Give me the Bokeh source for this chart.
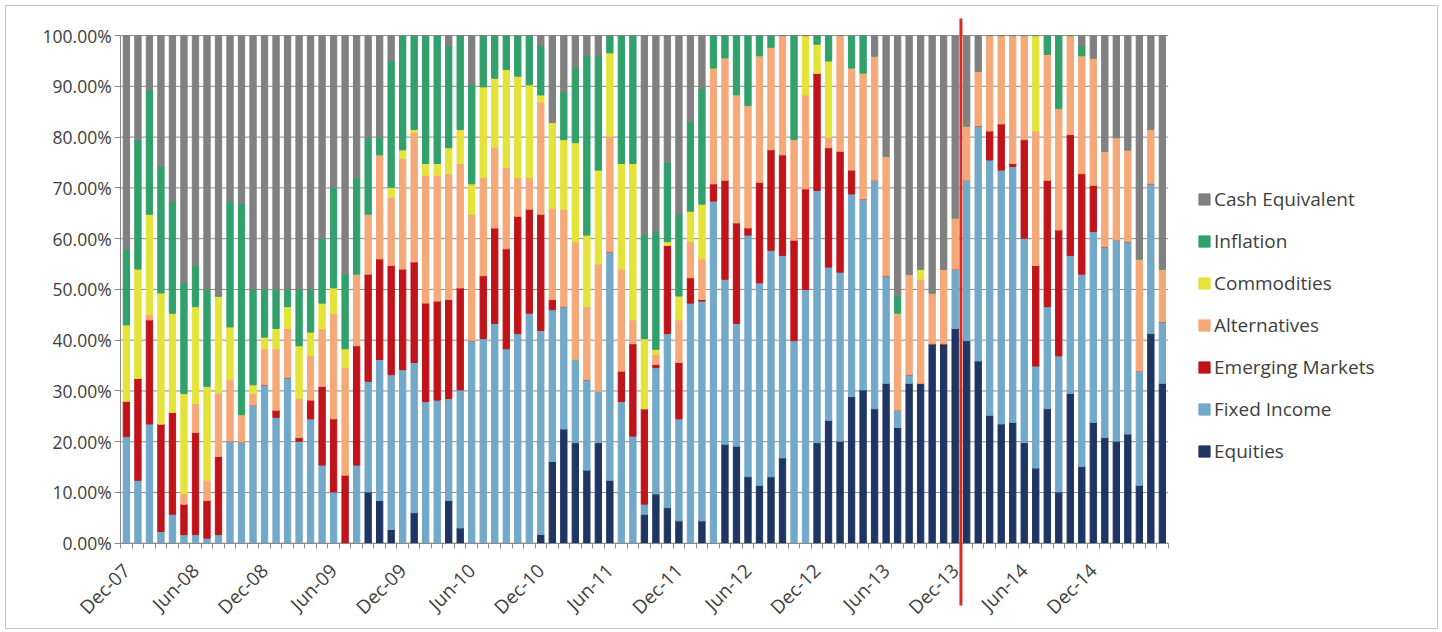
import math
import pandas as pd
from bokeh.plotting import figure
from bokeh.models import (Range1d, FixedTicker, NumeralTickFormatter, Legend, LegendItem,
                          ColumnDataSource)
from bokeh.embed import file_html
from bokeh.resources import INLINE

# ---- categories (monthly, Dec-07 .. Jun-15) ----
months = [d.strftime("%b-%y") for d in pd.date_range("2007-12-01", periods=91, freq="MS")]
tick_labels = ["Dec-07", "Jun-08", "Dec-08", "Jun-09", "Dec-09", "Jun-10", "Dec-10", "Jun-11",
               "Dec-11", "Jun-12", "Dec-12", "Jun-13", "Dec-13", "Jun-14", "Dec-14"]
y_ticks = [0, 10, 20, 30, 40, 50, 60, 70, 80, 90, 100]

# ---- series values (% of portfolio) ----
equities = [0, 0, 0, 0, 0, 0, 0, 0, 0, 0,
            0, 0, 0, 0, 0, 0, 0, 0, 0, 0,
            0, 10.1, 8.4, 2.7, 0, 6, 0, 0, 8.4, 3,
            0, 0, 0, 0, 0, 0, 1.7, 16.1, 22.5, 19.8,
            14.4, 19.8, 12.4, 0, 0, 5.7, 9.7, 7, 4.4, 0,
            4.4, 0, 19.5, 19.1, 13.1, 11.4, 13.1, 16.8, 0, 0,
            19.8, 24.2, 20.1, 28.9, 30.2, 26.5, 31.5, 22.8, 31.5, 31.5,
            39.3, 39.3, 42.3, 39.9, 35.9, 25.2, 23.5, 23.8, 19.8, 14.8,
            26.5, 10.1, 29.5, 15.1, 23.8, 20.8, 20.1, 21.5, 11.4, 41.3,
            31.5]
fixed_income = [21, 12.4, 23.5, 2.3, 5.7, 1.7, 1.7, 1, 1.7, 20.1,
                19.9, 27.2, 31.2, 24.8, 32.6, 20.1, 24.5, 15.4, 10.1, 0,
                15.4, 21.8, 27.8, 30.5, 34.2, 29.6, 27.9, 28.2, 20.1, 27.2,
                39.9, 40.3, 43.3, 38.3, 41.3, 45.3, 40.2, 29.9, 24.1, 16.4,
                17.8, 10.1, 45, 27.9, 21.1, 2, 24.9, 34.3, 20.1, 47.3,
                43.3, 67.4, 32.5, 24.2, 47.6, 39.9, 44.6, 39.9, 39.9, 50,
                49.7, 30.2, 33.3, 39.9, 37.6, 45, 21.2, 3.4, 1.7, 0,
                0, 0, 11.7, 31.6, 46.3, 50.3, 50, 50.4, 40.3, 20.1,
                20.1, 26.8, 27.2, 37.9, 37.6, 37.6, 39.6, 37.9, 22.5, 29.5,
                12.1]
emerging_markets = [7, 20.1, 20.5, 21.2, 20.1, 6, 20.1, 7.4, 15.4, 0,
                    0, 0, 0, 1.4, 0, 0.7, 3.7, 15.5, 14.4, 13.4,
                    23.5, 21.1, 19.8, 21.5, 19.8, 19.8, 19.4, 19.5, 19.5, 20.1,
                    0, 12.4, 18.8, 19.7, 23.1, 20.5, 22.9, 2, 0, 0,
                    0, 0, 0, 6, 18.2, 18.8, 0.6, 17.4, 11.1, 5,
                    0.3, 3.4, 19.5, 19.8, 1.4, 19.8, 19.8, 19.8, 19.8, 19.8,
                    23.1, 23.5, 23.8, 4.7, 0, 0, 0, 0, 0, 0,
                    0, 0, 0, 0, 0, 5.7, 9.1, 0.6, 19.4, 19.8,
                    24.9, 24.8, 23.8, 19.8, 9.1, 0, 0, 0, 0, 0,
                    0]
alternatives = [0, 0, 1, 0, 0, 2, 5.7, 4, 12.4, 12.1,
                5.4, 2.3, 7.1, 12.1, 9.7, 7.7, 8.7, 11.4, 20.8, 21.2,
                14.1, 11.8, 20.5, 13.4, 21.8, 25.5, 25.2, 24.8, 24.8, 24.5,
                24.9, 19.3, 15.9, 16, 7.6, 6.2, 22.1, 18, 19.2, 23.2,
                14.4, 25.1, 22.8, 20.1, 4.7, 0, 2, 0, 8.4, 7.1,
                8, 22.8, 24.1, 25.2, 24.1, 24.9, 20.2, 23.5, 19.8, 18.5,
                0, 2.1, 22.8, 20.1, 24.8, 24.5, 23.5, 19.1, 19.8, 20.5,
                10, 14.7, 10.1, 10.7, 10.8, 18.8, 17.4, 25.2, 20.5, 26.5,
                24.8, 23.9, 19.5, 23.2, 25.1, 18.8, 20.2, 18.1, 22.1, 10.7,
                10.4]
commodities = [15, 21.5, 19.8, 25.8, 19.5, 19.8, 19.1, 18.5, 19.2, 10.4,
               0, 1.7, 2.3, 4, 4.3, 10.4, 4.7, 5, 5, 3.7,
               0, 0, 0, 2, 1.7, 0.6, 2.3, 2.3, 5.1, 6.7,
               6, 17.9, 13.6, 19.3, 20, 18.3, 1.4, 16.9, 13.7, 19.5,
               14.1, 18.5, 16.4, 20.8, 30.8, 13.8, 1, 0.7, 4.7, 6,
               10.8, 0, 0, 0, 0, 0, 0, 0, 0, 11.7,
               5.7, 15, 0, 0, 0, 0, 0, 0, 0, 2,
               0, 0, 0, 0, 0, 0, 0, 0, 0, 18.8,
               0, 0, 0, 0, 0, 0, 0, 0, 0, 0,
               0]
inflation = [15, 25.5, 24.5, 24.9, 22.1, 21.8, 8.1, 19.1, 0, 24.8,
             41.7, 18.8, 9.4, 7.7, 3.4, 11.1, 8.4, 12.7, 19.7, 14.7,
             19, 15.1, 3.5, 24.9, 22.5, 18.5, 25.2, 25.2, 20.1, 18.5,
             19.5, 10.1, 8.4, 6.7, 8, 9.7, 9.7, 0, 9.4, 14.7,
             35.3, 22.5, 3.4, 25.2, 25.2, 20.4, 23.2, 15.6, 16.1, 17.6,
             22.8, 6.4, 4.4, 11.7, 13.8, 4, 2.3, 0, 20.5, 0,
             1.7, 5, 0, 6.4, 7.4, 0, 0, 3.4, 0, 0,
             0, 0, 0, 0, 0, 0, 0, 0, 0, 0,
             3.7, 14.4, 0, 2, 0, 0, 0, 0, 0, 0,
             0]
cash_equivalent = [42, 20.5, 10.7, 25.8, 32.6, 48.7, 45.3, 50, 51.3, 32.6,
                   33, 50, 50, 50, 50, 50, 50, 40, 30, 47,
                   28, 20.1, 20, 5, 0, 0, 0, 0, 2, 0,
                   9.7, 0, 0, 0, 0, 0, 2, 17.1, 11.1, 6.4,
                   4, 4, 0, 0, 0, 39.3, 38.6, 25, 35.2, 17,
                   10.4, 0, 0, 0, 0, 0, 0, 0, 0, 0,
                   0, 0, 0, 0, 0, 4, 23.8, 51.3, 47, 46,
                   50.7, 46, 35.9, 17.8, 7, 0, 0, 0, 0, 0,
                   0, 0, 0, 2, 4.4, 22.8, 20.1, 22.5, 44, 18.5,
                   46]

series_names = ["Equities", "Fixed Income", "Emerging Markets", "Alternatives",
                "Commodities", "Inflation", "Cash Equivalent"]
series_values = [equities, fixed_income, emerging_markets, alternatives,
                 commodities, inflation, cash_equivalent]
colors = ["#1f3563", "#72a8c8", "#c0141a", "#f5a878", "#e3e33a", "#31a06b", "#808080"]

n = len(months)
keys = ["s%d" % i for i in range(len(series_names))]
data = {"x": list(range(n)), "month": months}
for k, vals in zip(keys, series_values):
    data[k] = [v / 100.0 for v in vals]
src = ColumnDataSource(data)

FONT = "Open Sans"
TXT = "#404040"
GRID = "#8a8a8a"

# The frame fills the whole figure; axes are pinned inside it so that the divider
# line and the legend can sit outside the bar area without being clipped.
OX, OY = 5, 5                                  # figure offset on the page (margin)
W, H = 1433, 624
fl, fr, ft, fb = 1, W - 1, 1, H - 1            # frame edges in figure px
px_x0, px_x1 = 120 - OX, 1166 - OX             # plot-area left/right
px_y0, px_y1 = 541 - OY, 35 - OY               # 0% and 100%
ppx = (px_x1 - px_x0) / n
ppy = (px_y0 - px_y1)
x_lo = -0.5 - (px_x0 - fl) / ppx
x_hi = n - 0.5 + (fr - px_x1) / ppx
y_lo = -(fb - px_y0) / ppy
y_hi = 1 + (px_y1 - ft) / ppy

p = figure(width=W, height=H, output_backend="svg", toolbar_location=None,
           x_range=Range1d(x_lo, x_hi), y_range=Range1d(y_lo, y_hi),
           min_border=0, min_border_left=0, min_border_right=0,
           min_border_top=0, min_border_bottom=0)
p.styles = {"border": "1px solid #c4c4c4", "margin-left": "%dpx" % OX, "margin-top": "%dpx" % OY}
p.outline_line_color = None
p.background_fill_color = "white"
p.xgrid.visible = False
p.ygrid.visible = False

# horizontal gridlines across the bar area only
gy = [t / 100 for t in y_ticks]
p.segment(x0=[-0.5] * len(gy), x1=[n - 0.5] * len(gy), y0=gy, y1=gy,
          line_color=GRID, line_width=1, level="underlay")

rs = p.vbar_stack(keys, x="x", width=0.55, color=colors, source=src)

# y axis pinned at the left edge of the bar area
p.yaxis.fixed_location = -0.5
p.yaxis.bounds = (0, 1)
p.yaxis.ticker = FixedTicker(ticks=gy)
p.yaxis.formatter = NumeralTickFormatter(format="0.00%")
p.yaxis.axis_line_color = GRID
p.yaxis.major_tick_line_color = GRID
p.yaxis.major_tick_out = 6
p.yaxis.major_tick_in = 0
p.yaxis.minor_tick_line_color = None
p.yaxis.major_label_text_font = FONT
p.yaxis.major_label_text_font_size = "17.5px"
p.yaxis.major_label_text_color = TXT
p.yaxis.major_label_standoff = 3

# x axis pinned at 0%
tick_pos = [months.index(lbl) for lbl in tick_labels]
p.xaxis.fixed_location = 0
p.xaxis.bounds = (-0.5, n - 0.5)
p.xaxis.ticker = FixedTicker(ticks=tick_pos, minor_ticks=[i - 0.5 for i in range(n + 1)])
p.xaxis.major_label_overrides = {pos: lbl for pos, lbl in zip(tick_pos, tick_labels)}
p.xaxis.major_label_orientation = math.pi / 4
p.xaxis.axis_line_color = GRID
p.xaxis.major_tick_line_color = None
p.xaxis.minor_tick_line_color = GRID
p.xaxis.minor_tick_out = 5
p.xaxis.minor_tick_in = 0
p.xaxis.major_label_text_font = FONT
p.xaxis.major_label_text_font_size = "19px"
p.xaxis.major_label_text_color = TXT
p.xaxis.major_label_standoff = 18

# red divider between Dec-13 and Jan-14
mark = months.index("Dec-13") + 0.5
p.segment(x0=[mark], y0=[-(603 - OY - px_y0) / ppy], x1=[mark], y1=[1 + (px_y1 - (18 - OY)) / ppy],
          line_color="#dc2a22", line_width=3, level="overlay")

# legend
items = [LegendItem(label=nm, renderers=[r]) for nm, r in zip(series_names, rs)][::-1]
legend = Legend(items=items, location=(1197 - OX - fl, fb - (462 - OY)), label_text_font=FONT,
                label_text_font_size="19px", label_text_color=TXT,
                glyph_width=14, glyph_height=14, label_height=24, spacing=16,
                padding=0, margin=0, border_line_alpha=0, background_fill_alpha=0,
                label_standoff=3)
p.add_layout(legend, "center")

open("out.html", "w").write(file_html(p, INLINE))
